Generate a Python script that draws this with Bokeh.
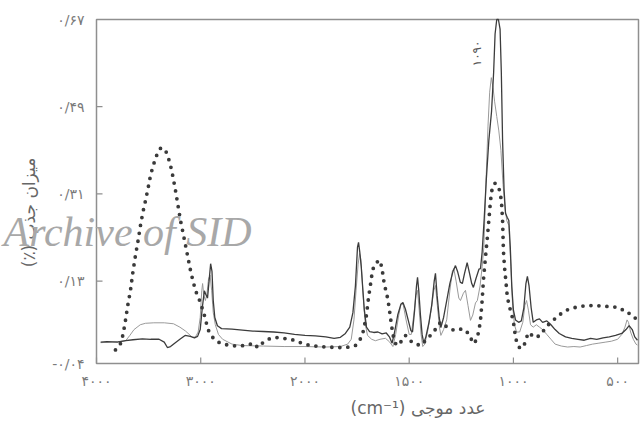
import numpy as np
from bokeh.plotting import figure
from bokeh.models import FixedTicker, Label, Range1d
from bokeh.embed import file_html
from bokeh.resources import INLINE

# ---------------- data (wavenumber cm^-1, absorbance) ----------------
solid_wn = [3960, 3900, 3800, 3720, 3650, 3560, 3480, 3400, 3350, 3320, 3290, 3250, 3200, 3150, 3100, 3060,
            3030, 3005, 2985, 2965, 2950, 2935, 2920, 2905, 2892, 2880, 2865, 2840, 2800, 2700, 2600, 2500,
            2400, 2300, 2200, 2100, 2000, 1950, 1900, 1860, 1830, 1806, 1785, 1770, 1758, 1748, 1743, 1737,
            1730, 1722, 1715, 1705, 1690, 1670, 1650, 1630, 1610, 1595, 1582, 1570, 1555, 1540, 1530, 1518,
            1505, 1492, 1484, 1474, 1465, 1460, 1454, 1446, 1438, 1430, 1420, 1405, 1392, 1380, 1374, 1366,
            1356, 1348, 1335, 1320, 1305, 1290, 1278, 1268, 1255, 1245, 1235, 1222, 1210, 1200, 1192, 1180,
            1165, 1158, 1150, 1140, 1130, 1118, 1105, 1095, 1088, 1080, 1072, 1064, 1058, 1052, 1045, 1038,
            1030, 1022, 1015, 1008, 1000, 990, 975, 962, 950, 940, 933, 925, 915, 905, 890, 875, 860, 840,
            820, 800, 780, 750, 720, 690, 660, 630, 600, 570, 540, 510, 480, 460, 445, 430, 418, 405]
solid_abs = [0.004, 0.005, 0.004, 0.007, 0.009, 0.011, 0.010, 0.010, 0.004, -0.007, -0.005, 0.002, 0.010,
             0.018, 0.016, 0.013, 0.016, 0.030, 0.075, 0.110, 0.102, 0.095, 0.130, 0.166, 0.150, 0.090,
             0.055, 0.038, 0.032, 0.031, 0.029, 0.027, 0.026, 0.025, 0.023, 0.020, 0.018, 0.017, 0.015,
             0.012, 0.014, 0.022, 0.035, 0.065, 0.120, 0.200, 0.210, 0.190, 0.160, 0.110, 0.070, 0.035,
             0.026, 0.024, 0.025, 0.021, 0.023, 0.015, 0.002, 0.025, 0.060, 0.082, 0.086, 0.072, 0.050,
             0.028, 0.025, 0.070, 0.120, 0.138, 0.110, 0.060, 0.020, 0.002, 0.015, 0.045, 0.080, 0.130,
             0.146, 0.100, 0.055, 0.034, 0.055, 0.090, 0.125, 0.150, 0.162, 0.150, 0.128, 0.125, 0.145,
             0.168, 0.145, 0.125, 0.117, 0.135, 0.155, 0.156, 0.190, 0.260, 0.340, 0.420, 0.480, 0.560,
             0.640, 0.670, 0.670, 0.650, 0.560, 0.420, 0.320, 0.270, 0.262, 0.255, 0.200, 0.120, 0.070,
             0.050, 0.045, 0.048, 0.075, 0.125, 0.140, 0.120, 0.075, 0.045, 0.050, 0.052, 0.045, 0.048,
             0.040, 0.030, 0.022, 0.015, 0.012, 0.010, 0.008, 0.012, 0.010, 0.013, 0.015, 0.018, 0.022,
             0.030, 0.038, 0.030, 0.015, 0.008]

gray_wn = [3960, 3880, 3800, 3720, 3680, 3640, 3580, 3530, 3450, 3350, 3261, 3200, 3146, 3100, 3079, 3050,
           3025, 3005, 2990, 2982, 2970, 2955, 2940, 2925, 2910, 2895, 2880, 2860, 2830, 2790, 2700, 2600,
           2400, 2200, 2000, 1900, 1830, 1795, 1778, 1765, 1755, 1745, 1738, 1732, 1725, 1718, 1710, 1700,
           1680, 1662, 1640, 1614, 1595, 1578, 1565, 1550, 1538, 1528, 1515, 1500, 1490, 1478, 1468, 1460,
           1452, 1443, 1435, 1425, 1410, 1395, 1382, 1374, 1365, 1355, 1348, 1335, 1320, 1305, 1293, 1286,
           1275, 1262, 1254, 1240, 1230, 1218, 1206, 1195, 1182, 1173, 1160, 1150, 1142, 1132, 1122, 1114,
           1106, 1098, 1090, 1080, 1070, 1060, 1050, 1040, 1032, 1022, 1012, 1004, 995, 985, 970, 955, 945,
           937, 928, 918, 905, 890, 875, 860, 840, 820, 800, 770, 740, 710, 680, 650, 620, 590, 560, 530,
           500, 480, 465, 455, 448, 438, 425, 412, 405]
gray_abs = [0.003, 0.004, 0.005, 0.007, 0.018, 0.030, 0.040, 0.043, 0.044, 0.044, 0.042, 0.035, 0.027,
            0.018, 0.014, 0.015, 0.025, 0.055, 0.110, 0.125, 0.100, 0.090, 0.105, 0.135, 0.142, 0.110,
            0.065, 0.040, 0.020, 0.010, 0.000, -0.003, -0.004, -0.005, -0.005, -0.006, -0.005, 0.000,
            0.010, 0.050, 0.110, 0.165, 0.187, 0.175, 0.130, 0.080, 0.040, 0.018, 0.010, 0.007, 0.010,
            0.012, 0.005, -0.005, 0.020, 0.060, 0.085, 0.080, 0.050, 0.020, 0.020, 0.060, 0.100, 0.111,
            0.070, 0.020, -0.005, 0.000, 0.030, 0.070, 0.110, 0.121, 0.080, 0.035, 0.018, 0.030, 0.050,
            0.110, 0.150, 0.156, 0.130, 0.095, 0.090, 0.105, 0.111, 0.080, 0.049, 0.060, 0.085, 0.090,
            0.120, 0.160, 0.200, 0.330, 0.450, 0.520, 0.550, 0.530, 0.500, 0.470, 0.440, 0.400, 0.330,
            0.280, 0.255, 0.245, 0.160, 0.080, 0.040, 0.025, 0.025, 0.045, 0.080, 0.090, 0.070, 0.040,
            0.035, 0.040, 0.035, 0.030, 0.020, 0.010, 0.000, -0.004, -0.006, -0.005, -0.006, -0.003,
            0.000, 0.002, 0.004, 0.006, 0.010, 0.020, 0.035, 0.050, 0.045, 0.025, 0.010, 0.000, -0.002]

dot_wn = [3818, 3790, 3770, 3745, 3722, 3700, 3674, 3650, 3626, 3600, 3578, 3555, 3530, 3505, 3482, 3458,
          3434, 3410, 3386, 3362, 3338, 3314, 3290, 3266, 3242, 3218, 3194, 3170, 3146, 3122, 3098, 3074,
          3050, 3026, 3002, 2983, 2964, 2945, 2925, 2900, 2870, 2830, 2780, 2714, 2650, 2580, 2520, 2494,
          2470, 2446, 2420, 2379, 2330, 2283, 2210, 2139, 2090, 2043, 1974, 1900, 1830, 1780, 1758, 1735,
          1719, 1705, 1695, 1685, 1676, 1665, 1652, 1640, 1630, 1622, 1612, 1604, 1596, 1590, 1580, 1572,
          1560, 1545, 1530, 1518, 1500, 1484, 1465, 1446, 1420, 1398, 1375, 1350, 1330, 1317, 1295, 1278,
          1260, 1245, 1230, 1216, 1204, 1192, 1182, 1173, 1165, 1158, 1150, 1144, 1134, 1125, 1117, 1110,
          1103, 1096, 1088, 1080, 1070, 1062, 1056, 1052, 1048, 1043, 1038, 1033, 1029, 1020, 1014, 1005,
          998, 990, 980, 971, 960, 952, 940, 928, 915, 904, 888, 871, 855, 837, 818, 799, 780, 765, 745,
          727, 700, 679, 650, 616, 590, 559, 530, 501, 480, 463, 439, 425, 414]
dot_abs = [-0.012, -0.005, 0.001, 0.020, 0.049, 0.080, 0.111, 0.150, 0.183, 0.215, 0.245, 0.272, 0.296,
           0.322, 0.348, 0.367, 0.383, 0.397, 0.404, 0.405, 0.400, 0.387, 0.369, 0.345, 0.317, 0.286, 0.255,
           0.230, 0.204, 0.178, 0.152, 0.130, 0.111, 0.097, 0.086, 0.072, 0.059, 0.043, 0.028, 0.018, 0.010,
           0.004, 0.000, -0.003, -0.004, -0.003, 0.000, 0.002, -0.004, -0.007, 0.000, 0.007, 0.012, 0.014,
           0.012, 0.010, 0.007, 0.003, -0.003, -0.006, -0.007, -0.006, -0.003, 0.010, 0.028, 0.060, 0.096,
           0.125, 0.152, 0.165, 0.170, 0.173, 0.155, 0.131, 0.110, 0.096, 0.075, 0.055, 0.025, 0.007,
           -0.003, 0.002, 0.010, 0.018, 0.010, 0.003, 0.000, -0.003, 0.008, 0.018, 0.030, 0.045, 0.040,
           0.034, 0.030, 0.028, 0.030, 0.032, 0.028, 0.022, 0.012, 0.001, 0.006, 0.014, 0.030, 0.049, 0.090,
           0.131, 0.180, 0.220, 0.260, 0.296, 0.318, 0.328, 0.332, 0.330, 0.322, 0.310, 0.285, 0.255, 0.193,
           0.160, 0.138, 0.115, 0.096, 0.080, 0.069, 0.055, 0.040, 0.014, -0.002, -0.007, -0.008, -0.007,
           0.010, 0.024, 0.020, 0.014, 0.015, 0.018, 0.028, 0.038, 0.046, 0.053, 0.060, 0.065, 0.070, 0.073,
           0.076, 0.078, 0.079, 0.080, 0.079, 0.078, 0.077, 0.076, 0.072, 0.065, 0.063, 0.058, 0.053]

x_tick_wn = [4000, 3000, 2000, 1500, 1000, 500]
x_tick_labels = ["۴۰۰۰", "۳۰۰۰", "۲۰۰۰", "۱۵۰۰", "۱۰۰۰", "۵۰۰"]
y_ticks = [-0.04, 0.13, 0.31, 0.49, 0.67]
y_tick_labels = ["-۰/۰۴", "۰/۱۳", "۰/۳۱", "۰/۴۹", "۰/۶۷"]
x_title = "(cm⁻¹) عدد موجی"
y_title = "(٪) میزان جذب"
peak_note = "۱۰۹۰"
watermark = "Archive of SID"


def to_u(wn):
    """IR chart x scale: half scale above 2000 cm-1."""
    wn = np.asarray(wn, dtype=float)
    return np.where(wn >= 2000, (4000 - wn) / 2.0, 1000 + (2000 - wn))


FONT = "DejaVu Sans"
W, H = 640, 424
U0, U1 = 0.0, 2600.0            # 4000 .. 400 cm-1
Y0, Y1 = -0.04, 0.67
BOX_L, BOX_R, BOX_T, BOX_B = 96, 638, 19, 363   # plot box inside the canvas (px)
PXU = (BOX_R - BOX_L) / (U1 - U0)
PXY = (BOX_B - BOX_T) / (Y1 - Y0)

# the frame covers the whole canvas, so the box, scales and texts can all be drawn in it
p = figure(width=W, height=H, output_backend="svg", toolbar_location=None,
           x_range=Range1d(U0 - BOX_L / PXU, U1 + (W - BOX_R) / PXU),
           y_range=Range1d(Y0 - (H - BOX_B) / PXY, Y1 + BOX_T / PXY),
           min_border_left=0, min_border_right=0, min_border_top=0, min_border_bottom=0)
p.background_fill_color = "white"
p.border_fill_color = "white"
p.outline_line_color = None
p.xgrid.visible = False
p.ygrid.visible = False

AX = "#8f8f8f"
# plot box and tick marks
p.quad(left=[U0], right=[U1], bottom=[Y0], top=[Y1], fill_color=None, line_color=AX, line_width=1.5)
xt = [float(v) for v in to_u(x_tick_wn)]
p.segment(x0=xt, x1=xt, y0=[Y0] * len(xt), y1=[Y0 + 6 / PXY] * len(xt), line_color=AX, line_width=1.2)
p.segment(x0=[U0] * len(y_ticks), x1=[U0 + 6 / PXU] * len(y_ticks), y0=y_ticks, y1=y_ticks,
          line_color=AX, line_width=1.2)

# spectra
p.line(to_u(gray_wn), gray_abs, line_color="#9a9a9a", line_width=1.0)
p.line(to_u(solid_wn), solid_abs, line_color="#3c3c3c", line_width=1.3)
p.line(to_u(dot_wn), dot_abs, line_color="#3a3a3a", line_width=3.8,
       line_dash="0 8", line_cap="round")

# axes (labels only) fixed on the plot box
p.xaxis.ticker = FixedTicker(ticks=xt)
p.xaxis.major_label_overrides = {t: s for t, s in zip(xt, x_tick_labels)}
p.xaxis.fixed_location = Y0
p.yaxis.ticker = FixedTicker(ticks=y_ticks)
p.yaxis.major_label_overrides = {t: s for t, s in zip(y_ticks, y_tick_labels)}
p.yaxis.fixed_location = U0
for ax in (p.xaxis, p.yaxis):
    ax.axis_line_color = None
    ax.major_tick_line_color = None
    ax.minor_tick_line_color = None
    ax.major_label_text_font = FONT
    ax.major_label_text_font_size = "14px"
    ax.major_label_text_color = "#7a7a7a"
    ax.axis_label_text_font = FONT
    ax.axis_label_text_font_size = "17px"
    ax.axis_label_text_color = "#666666"
    ax.axis_label_text_font_style = "normal"
p.xaxis.major_label_standoff = 3
p.yaxis.major_label_standoff = 6
p.yaxis.axis_label = y_title
p.yaxis.axis_label_standoff = 10

# x-axis title (shifted right as in the original)
p.add_layout(Label(x=U0 + (350 - BOX_L) / PXU, y=Y0 - 44 / PXY, text=x_title, text_font=FONT,
                   text_font_size="17px", text_color="#666666",
                   text_align="left", text_baseline="middle"))
# peak annotation
p.add_layout(Label(x=U0 + (476 - BOX_L) / PXU, y=0.60, text=peak_note, text_font=FONT,
                   text_font_size="12px", text_color="#555555", angle=np.pi / 2,
                   text_align="center", text_baseline="middle"))
# watermark
p.add_layout(Label(x=U0 - 93 / PXU, y=0.232, text=watermark,
                   text_font="Liberation Serif", text_font_style="italic",
                   text_font_size="42px", text_color="#a8a8a8",
                   text_align="left", text_baseline="alphabetic"))

open("out.html", "w").write(file_html(p, INLINE))
